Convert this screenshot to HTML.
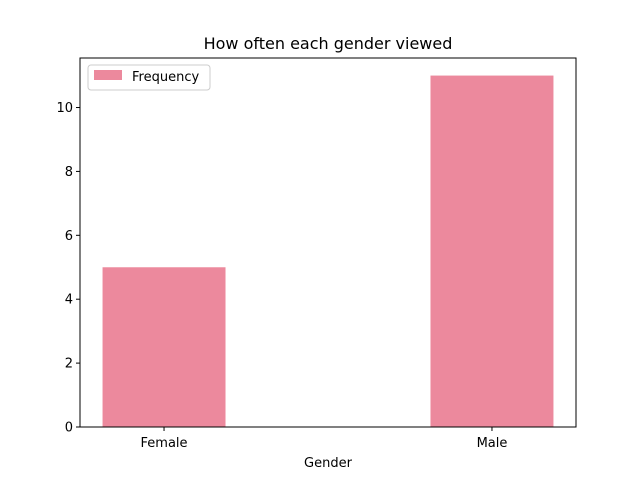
<!DOCTYPE html>
<html><head><meta charset="utf-8"><style>
body{margin:0;background:#fff;}
svg text{font-family:"DejaVu Sans","Liberation Sans",sans-serif;}
</style></head><body>
<svg id="chart" width="640" height="480" xmlns="http://www.w3.org/2000/svg">
<rect width="640" height="480" fill="#fff"/>
<text x="328" y="49" font-size="16" text-anchor="middle">How often each gender viewed</text>
<g id="bars"></g>
<g id="axes"></g>
<text x="328" y="467" font-size="13" text-anchor="middle">Gender</text>
<g>
<rect x="88" y="65" width="122" height="25" rx="3" fill="#fff" stroke="#ccc"/>
<rect x="94" y="70" width="28" height="10" fill="#ec899d"/>
<text x="132" y="81" font-size="13">Frequency</text>
</g>
</svg>
<script>
const categories=["Female","Male"];
const values=[5,11];
const yTicks=[0,2,4,6,8,10];
const L=80,R=576,T=58,B=427,barW=0.375;
const ymax=Math.max(...values)*1.05;
const xmin=-barW/2-0.05*(categories.length-1+barW), xmax=categories.length-1+barW/2+0.05*(categories.length-1+barW);
const xs=v=>L+(v-xmin)/(xmax-xmin)*(R-L);
const ys=v=>B-v/ymax*(B-T);
const NS="http://www.w3.org/2000/svg";
function mk(t,a,p){const e=document.createElementNS(NS,t);for(const k in a)e.setAttribute(k,a[k]);p.appendChild(e);return e;}
const bars=document.getElementById('bars'),axes=document.getElementById('axes');
values.forEach((v,i)=>{const r=mk('rect',{x:xs(i-barW/2),y:ys(v),width:xs(i+barW/2)-xs(i-barW/2),height:ys(0)-ys(v),fill:'#ec899d'},bars);


const tk=mk('line',{x1:xs(i),x2:xs(i),y1:B,y2:B+4,stroke:'#000'},axes);


const tl=mk('text',{x:xs(i),y:B+20,'font-size':13,'text-anchor':'middle'},axes);tl.textContent=categories[i];

});
yTicks.forEach(v=>{const tk=mk('line',{x1:L-4,x2:L,y1:ys(v),y2:ys(v),stroke:'#000'},axes);


const tl=mk('text',{x:L-7,y:ys(v)+4.5,'font-size':13,'text-anchor':'end'},axes);tl.textContent=v;

});
const fr=mk('rect',{x:L,y:T,width:R-L,height:B-T,fill:'none',stroke:'#000','stroke-width':1},axes);


</script>
</body></html>
